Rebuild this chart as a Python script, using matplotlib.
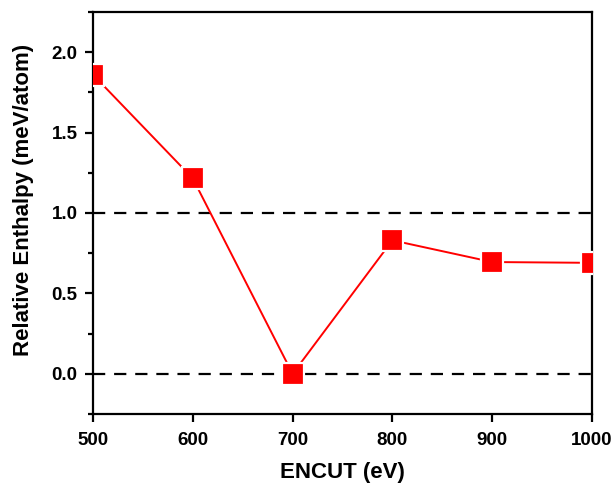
import matplotlib.pyplot as plt
from matplotlib.ticker import MultipleLocator

plt.rcParams['font.family'] = ['Liberation Sans', 'DejaVu Sans']
plt.rcParams['font.weight'] = 'bold'

encut = [500, 600, 700, 800, 900, 1000]
enthalpy = [1.86, 1.215, 0.0, 0.83, 0.695, 0.69]
ref_levels = [0.0, 1.0]

fig = plt.figure(figsize=(6.15, 4.87), dpi=100)
ax = fig.add_axes([0.1512, 0.1499, 0.8114, 0.8255])

for lvl in ref_levels:
    ax.axhline(lvl, color='black', linestyle=(0, (5.5, 4)), linewidth=1.6, zorder=1)

ax.plot(encut, enthalpy, color='red', linewidth=1.4, marker='s', markersize=16.5,
        markerfacecolor='red', markeredgecolor='white', markeredgewidth=1.6, zorder=3)

ax.set_xlim(500, 1000)
ax.set_ylim(-0.25, 2.25)
ax.xaxis.set_major_locator(MultipleLocator(100))
ax.yaxis.set_major_locator(MultipleLocator(0.5))
ax.yaxis.set_minor_locator(MultipleLocator(0.25))
ax.yaxis.set_major_formatter(plt.FormatStrFormatter('%.1f'))

for s in ax.spines.values():
    s.set_linewidth(1.6)
ax.tick_params(which='major', direction='out', length=6, width=1.6, labelsize=13.5, pad=5)
ax.tick_params(axis='x', which='major', pad=7)
ax.tick_params(which='minor', direction='out', length=3.5, width=1.6)
ax.tick_params(top=False, right=False, which='both')

ax.set_xlabel('ENCUT (eV)', fontsize=16, fontweight='bold')
ax.set_ylabel('Relative Enthalpy (meV/atom)', fontsize=16, fontweight='bold')
ax.xaxis.set_label_coords(0.5, -0.12)
ax.yaxis.set_label_coords(-0.118, 0.532)

fig.savefig('out.png', dpi=100)
